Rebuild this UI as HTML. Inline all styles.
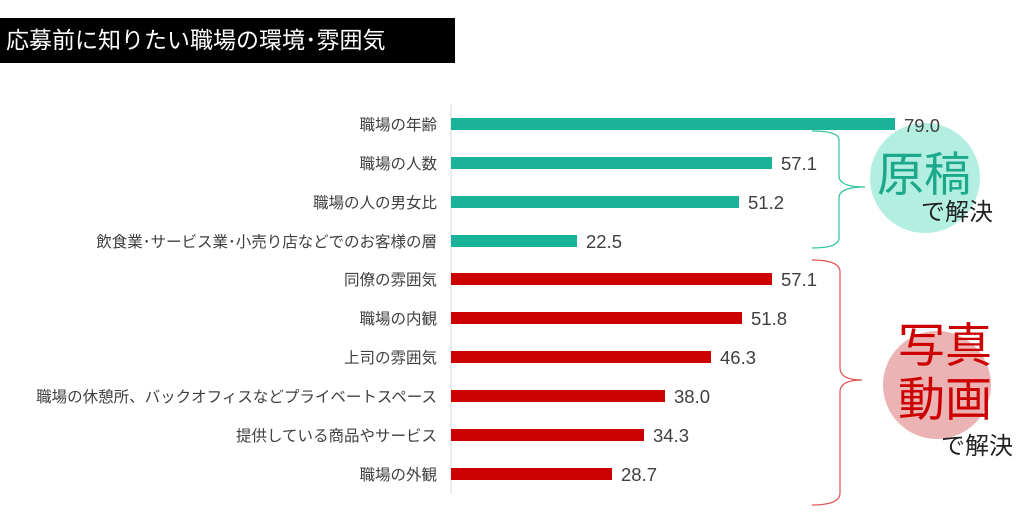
<!DOCTYPE html>
<html><head><meta charset="utf-8"><style>
body{margin:0;width:1024px;height:512px;background:#fff;overflow:hidden;position:relative;font-family:"Liberation Sans","Noto Sans CJK JP",sans-serif}
.t{position:absolute;left:0;top:18px;width:455px;height:45px;background:#000;color:#fff;font-size:23px;line-height:45px;padding-left:6px;box-sizing:border-box}
</style></head><body>
<div class="t">応募前に知りたい職場の環境･雰囲気</div>
<svg width="1024" height="512" style="position:absolute;left:0;top:0" font-family="Liberation Sans, Noto Sans CJK JP, sans-serif">
<circle cx="925" cy="178" r="55" fill="#b3efe0"/>
<circle cx="937" cy="385" r="54" fill="#ecb3b5"/>
<line x1="451" y1="104" x2="451" y2="494" stroke="#d9d9d9" stroke-width="1"/>
<g font-size="15.5" fill="#404040" text-anchor="end">
<text x="437" y="130">職場の年齢</text>
<text x="437" y="169">職場の人数</text>
<text x="437" y="208">職場の人の男女比</text>
<text x="437" y="247">飲食業･サービス業･小売り店などでのお客様の層</text>
<text x="437" y="285">同僚の雰囲気</text>
<text x="437" y="324">職場の内観</text>
<text x="437" y="363">上司の雰囲気</text>
<text x="437" y="402">職場の休憩所、バックオフィスなどプライベートスペース</text>
<text x="437" y="441">提供している商品やサービス</text>
<text x="437" y="480">職場の外観</text>
</g>
<g fill="#1ab39a">
<rect x="451" y="118" width="444" height="12"/>
<rect x="451" y="157" width="321" height="12"/>
<rect x="451" y="196" width="288" height="12"/>
<rect x="451" y="235" width="126" height="12"/>
</g>
<g fill="#cc0000">
<rect x="451" y="273" width="321" height="12"/>
<rect x="451" y="312" width="291" height="12"/>
<rect x="451" y="351" width="260" height="12"/>
<rect x="451" y="390" width="214" height="12"/>
<rect x="451" y="429" width="193" height="12"/>
<rect x="451" y="468" width="161" height="12"/>
</g>
<g font-size="18.5" fill="#404040">
<text x="904" y="132">79.0</text>
<text x="781" y="170">57.1</text>
<text x="748" y="209">51.2</text>
<text x="586" y="248">22.5</text>
<text x="781" y="286">57.1</text>
<text x="751" y="325">51.8</text>
<text x="720" y="364">46.3</text>
<text x="674" y="403">38.0</text>
<text x="653" y="442">34.3</text>
<text x="621" y="481">28.7</text>
</g>
<path d="M812 131 Q839 131 839 140 L839 176 Q839 187 865 187 Q839 187 839 198 L839 238 Q839 248 812 248" fill="none" stroke="#2ec4a0" stroke-width="1.2"/>
<path d="M812 260 Q840 260 840 272 L840 368 Q840 380 862 380 Q840 380 840 392 L840 493 Q840 505 812 505" fill="none" stroke="#e05050" stroke-width="1.2"/>
<text x="877" y="191" font-size="47" fill="#1ca88a">原稿</text>
<text x="921" y="220" font-size="24" fill="#222">で解決</text>
<text x="898" y="362" font-size="47" fill="#cc0000">写真</text>
<text x="898" y="416" font-size="47" fill="#cc0000">動画</text>
<text x="941" y="454" font-size="24" fill="#222">で解決</text>
</svg>
</body></html>
